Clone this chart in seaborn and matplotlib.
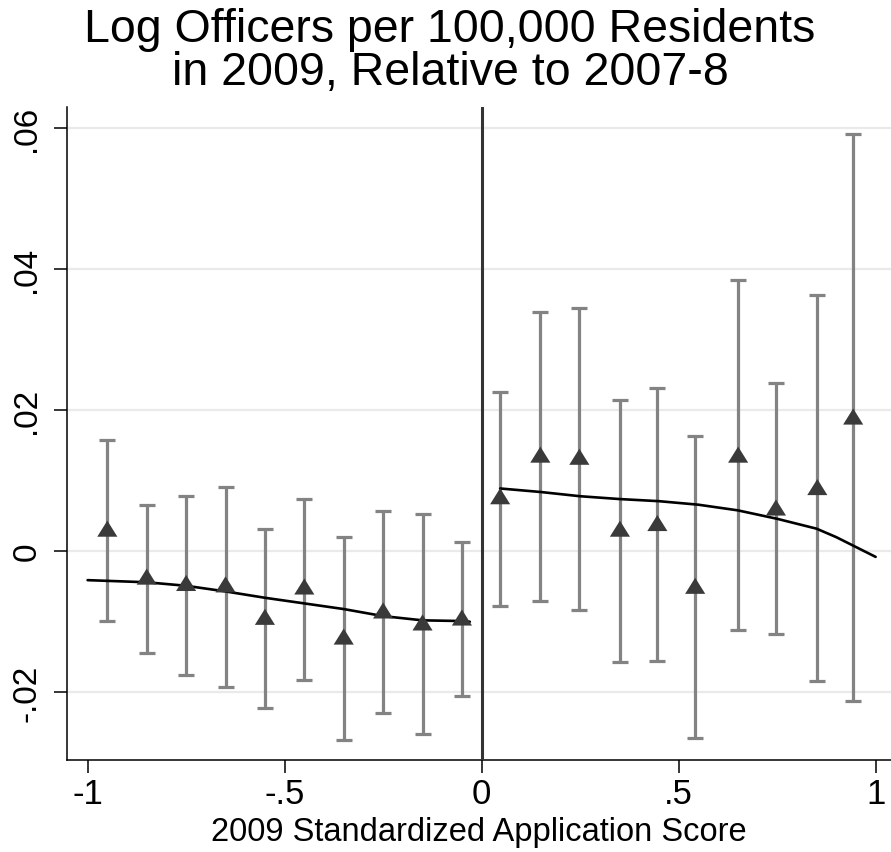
import matplotlib
matplotlib.use("Agg")
import matplotlib.pyplot as plt
from matplotlib.path import Path
import numpy as np
import pandas as pd
import seaborn as sns

# Binned means and 95% intervals, below and above the cutoff
x_left = [-0.95, -0.85, -0.75, -0.65, -0.55, -0.45, -0.35, -0.25, -0.15, -0.05]
y_left = [0.0032, -0.0036, -0.0045, -0.0047, -0.0093, -0.0050, -0.0121, -0.0084, -0.0101, -0.0094]
hi_left = [0.0158, 0.0066, 0.0078, 0.0091, 0.0031, 0.0074, 0.0020, 0.0057, 0.0053, 0.0013]
lo_left = [-0.0099, -0.0145, -0.0175, -0.0192, -0.0222, -0.0182, -0.0267, -0.0230, -0.0259, -0.0206]

x_right = [0.047, 0.149, 0.248, 0.351, 0.446, 0.542, 0.651, 0.747, 0.852, 0.943]
y_right = [0.0078, 0.0137, 0.0134, 0.0032, 0.0040, -0.0049, 0.0137, 0.0062, 0.0091, 0.0191]
hi_right = [0.0226, 0.0339, 0.0345, 0.0214, 0.0232, 0.0163, 0.0384, 0.0238, 0.0363, 0.0592]
lo_right = [-0.0077, -0.0071, -0.0083, -0.0157, -0.0156, -0.0265, -0.0112, -0.0118, -0.0184, -0.0213]

# Local fit on each side of the cutoff
fit_x_left = [-1.0, -0.95, -0.85, -0.75, -0.65, -0.55, -0.45, -0.35, -0.25, -0.15, -0.05, -0.03]
fit_y_left = [-0.0041, -0.0042, -0.0044, -0.0049, -0.0057, -0.0066, -0.0074, -0.0082, -0.0092, -0.0098, -0.0099, -0.0100]
fit_x_right = [0.047, 0.15, 0.25, 0.35, 0.45, 0.55, 0.65, 0.75, 0.85, 0.90, 0.95, 1.0]
fit_y_right = [0.0089, 0.0084, 0.0078, 0.0074, 0.0071, 0.0066, 0.0058, 0.0046, 0.0032, 0.0020, 0.0006, -0.0008]

y_ticks = [-0.02, 0.0, 0.02, 0.04, 0.06]
y_tick_labels = ["-.02", "0", ".02", ".04", ".06"]
x_ticks = [-1, -0.5, 0, 0.5, 1]
x_tick_labels = ["-1", "-.5", "0", ".5", "1"]

sns.set_theme(style="white")
plt.rcParams["font.family"] = ["Liberation Sans", "DejaVu Sans"]
plt.rcParams["text.color"] = "black"
plt.rcParams["axes.labelcolor"] = "black"
plt.rcParams["xtick.color"] = "black"
plt.rcParams["ytick.color"] = "black"

bins = pd.DataFrame({
    "score": x_left + x_right,
    "est": y_left + y_right,
    "hi": hi_left + hi_right,
    "lo": lo_left + lo_right,
})
fits = pd.concat([
    pd.DataFrame({"score": fit_x_left, "fit": fit_y_left, "side": "below"}),
    pd.DataFrame({"score": fit_x_right, "fit": fit_y_right, "side": "above"}),
])

fig = plt.figure(figsize=(8.91, 8.53), dpi=100)
ax = fig.add_axes([0.0749, 0.1079, 0.9251, 0.7655])

for yt in y_ticks:
    ax.axhline(yt, color="#eaeaea", lw=1.6, zorder=0)

ax.errorbar(bins["score"], bins["est"],
            yerr=[bins["est"] - bins["lo"], bins["hi"] - bins["est"]],
            fmt="none", ecolor="#838383", elinewidth=2.3, capsize=5.8,
            capthick=2.3, zorder=2)

sns.lineplot(data=fits, x="score", y="fit", units="side", estimator=None,
             color="black", lw=1.9, ax=ax, zorder=3, legend=False)

tri = Path([(0, 0.8), (-1, -0.8), (1, -0.8), (0, 0.8)],
           [Path.MOVETO, Path.LINETO, Path.LINETO, Path.CLOSEPOLY])
sns.scatterplot(data=bins, x="score", y="est", marker=tri, s=210,
                color="#3a3a3a", edgecolor="none", linewidth=0, ax=ax, zorder=4)

ax.axvline(0, color="#333333", lw=2.2, zorder=3)

ax.set_xlim(-1.053, 1.039)
ax.set_ylim(-0.0296, 0.0630)
ax.set_xticks(x_ticks)
ax.set_xticklabels(x_tick_labels, fontsize=25)
ax.set_yticks(y_ticks)
ax.set_yticklabels(y_tick_labels, fontsize=24, rotation=90, va="center")
ax.tick_params(axis="both", direction="out", length=9.5, width=1.1,
               color="black", bottom=True, left=True)
ax.tick_params(axis="y", pad=8)
ax.tick_params(axis="x", pad=3)

for side in ["top", "right"]:
    ax.spines[side].set_visible(False)
for side in ["left", "bottom"]:
    ax.spines[side].set_color("black")
    ax.spines[side].set_linewidth(1.1)

ax.set_xlabel("2009 Standardized Application Score", fontsize=23.5, labelpad=4)
ax.set_ylabel("")
fig.text(0.505, 0.991, "Log Officers per 100,000 Residents\nin 2009, Relative to 2007-8",
         ha="center", va="top", fontsize=33.5, linespacing=0.98)

fig.savefig("out.png", dpi=100)
